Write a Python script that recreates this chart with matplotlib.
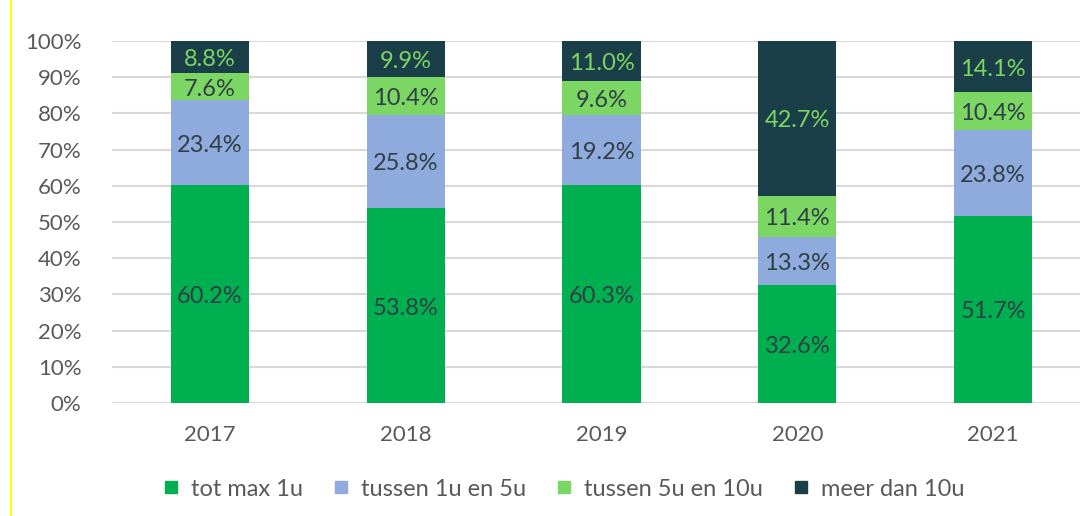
import matplotlib
matplotlib.use("Agg")
import matplotlib.pyplot as plt
from matplotlib.lines import Line2D
from matplotlib.transforms import offset_copy
import numpy as np

years = ["2017", "2018", "2019", "2020", "2021"]
series_names = ["tot max 1u", "tussen 1u en 5u", "tussen 5u en 10u", "meer dan 10u"]
tot_max_1u = [60.2, 53.8, 60.3, 32.6, 51.7]
tussen_1u_5u = [23.4, 25.8, 19.2, 13.3, 23.8]
tussen_5u_10u = [7.6, 10.4, 9.6, 11.4, 10.4]
meer_dan_10u = [8.8, 9.9, 11.0, 42.7, 14.1]
y_ticks = [0, 10, 20, 30, 40, 50, 60, 70, 80, 90, 100]

colors = ["#00B050", "#8FAADC", "#7CD664", "#1B3F48"]
label_colors = ["#2F3F44", "#2F3F44", "#2F3F44", "#7CD664"]
gray = "#595959"

plt.rcParams["font.family"] = ["Lato", "DejaVu Sans"]

fig = plt.figure(figsize=(10.8, 5.16), dpi=100)
W, H = 1080, 516
ax = fig.add_axes([112 / W, 1 - 403 / H, 979 / W, 362 / H])

series = np.array([tot_max_1u, tussen_1u_5u, tussen_5u_10u, meer_dan_10u], dtype=float)
shares = series / series.sum(axis=0) * 100  # 100% stacked
x = np.arange(len(years))
label_tr = offset_copy(ax.transData, fig=fig, x=0, y=-2.5, units="dots")
bottom = np.zeros(len(years))
for i, name in enumerate(series_names):
    ax.bar(x, shares[i], bottom=bottom, width=0.4, color=colors[i], zorder=3)
    for j in range(len(years)):
        ax.text(x[j], bottom[j] + shares[i][j] / 2, f"{series[i][j]:.1f}%",
                ha="center", va="center", fontsize=17, color=label_colors[i],
                zorder=4, transform=label_tr)
    bottom += shares[i]

ax.set_xlim(-0.5, len(years) - 0.5)
ax.set_ylim(0, 100)
ax.set_yticks(y_ticks)
ax.set_yticklabels([f"{t}%" for t in y_ticks])
ax.set_xticks(x)
ax.set_xticklabels(years)
ax.tick_params(axis="both", length=0, labelsize=16, labelcolor=gray)
ax.tick_params(axis="y", pad=22)
ax.tick_params(axis="x", pad=16)
ax.grid(axis="y", color="#D9D9D9", linewidth=1.5, zorder=0)
ax.set_axisbelow(True)
for s in ax.spines.values():
    s.set_visible(False)

handles = [Line2D([], [], marker="s", linestyle="none", markersize=9,
                  markerfacecolor=c, markeredgecolor=c) for c in colors]
fig.legend(handles, series_names, loc="center", bbox_to_anchor=(562 / W, 1 - 489 / H),
           ncol=4, frameon=False, fontsize=17, labelcolor=gray,
           handletextpad=0.35, columnspacing=1.1, handlelength=1.0)

fig.add_artist(Line2D([10.5 / W, 10.5 / W], [0, 1], color="#FFFF00", linewidth=1.5))

fig.savefig("out.png", dpi=100)
